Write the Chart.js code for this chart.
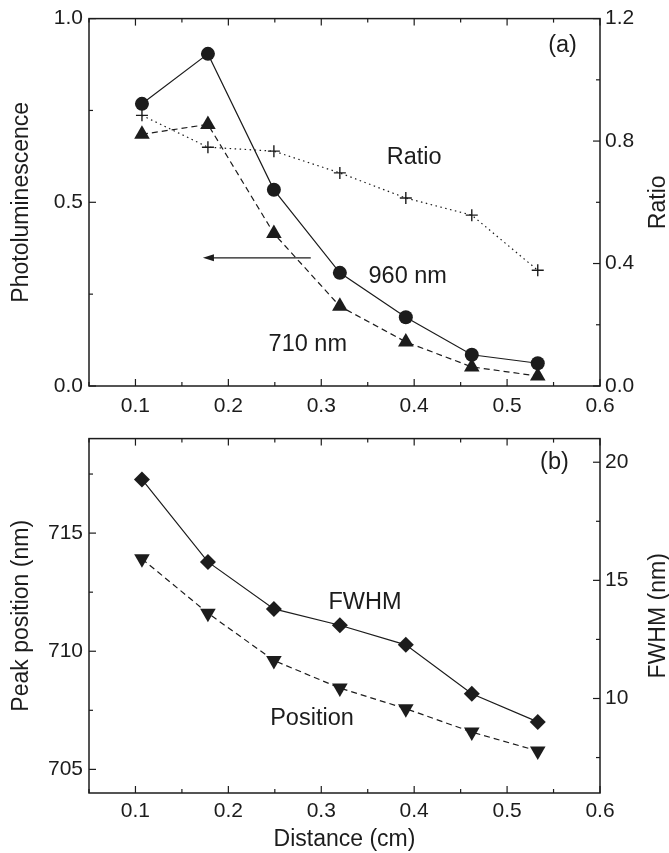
<!DOCTYPE html>
<html><head><meta charset="utf-8">
<script src="https://cdn.jsdelivr.net/npm/chart.js@4/dist/chart.umd.min.js"></script>
<style>
html,body{margin:0;padding:0;background:#fff;}
#wrap{position:relative;width:669px;height:853px;overflow:hidden;}
canvas{position:absolute;left:0;}
</style></head><body>
<div id="wrap">
<canvas id="c1" width="669" height="420" style="top:0;width:669px;height:420px"></canvas>
<canvas id="c2" width="669" height="433" style="top:420px;width:669px;height:433px"></canvas>
</div>
<script>
// ---------- data ----------
const distance = [0.107, 0.178, 0.249, 0.320, 0.391, 0.462, 0.533];
const pl960 = [0.768, 0.904, 0.534, 0.308, 0.187, 0.085, 0.062];
const pl710 = [0.685, 0.712, 0.415, 0.217, 0.120, 0.052, 0.027];
const ratio = [0.884, 0.780, 0.767, 0.696, 0.614, 0.558, 0.378];
const fwhm = [19.27, 15.78, 13.79, 13.10, 12.27, 10.20, 9.01];
const peakPos = [713.91, 711.61, 709.61, 708.44, 707.57, 706.58, 705.78];

// ---------- ticks ----------
const xMajor = [0.1, 0.2, 0.3, 0.4, 0.5, 0.6];
const xMinor = [0.05, 0.15, 0.25, 0.35, 0.45, 0.55];
const plMajor = [0.0, 0.5, 1.0];
const plMinor = [0.25, 0.75];
const ratioMajor = [0.0, 0.4, 0.8, 1.2];
const ratioMinor = [0.2, 0.6, 1.0];
const posMajor = [705, 710, 715];
const posMinor = [707.5, 712.5, 717.5];
const fwhmMajor = [10, 15, 20];
const fwhmMinor = [7.5, 12.5, 17.5];

const INK = '#1c1c1c';
const FONT = "'Liberation Sans', Arial, Helvetica, sans-serif";
const TICK_PX = 21, TITLE_PX = 23, NOTE_PX = 23.5;
const pts = ys => distance.map((x, i) => ({x, y: ys[i]}));

function setTicks(arr) { return s => { s.ticks = arr.map(v => ({value: v})); }; }

const tickPlugin = {
  id: 'frameTicks',
  afterDraw(chart, args, o) {
    const {ctx, chartArea: a} = chart;
    const xs = chart.scales.x, yl = chart.scales.y, yr = chart.scales.y1;
    ctx.save();
    ctx.strokeStyle = INK;
    ctx.lineWidth = 1.5;
    ctx.strokeRect(a.left, a.top, a.right - a.left, a.bottom - a.top);
    ctx.lineWidth = 1.2;
    const seg = (x1, y1, x2, y2) => { ctx.beginPath(); ctx.moveTo(x1, y1); ctx.lineTo(x2, y2); ctx.stroke(); };
    const xt = (vals, len) => vals.forEach(v => { const p = xs.getPixelForValue(v); seg(p, a.bottom, p, a.bottom - len); seg(p, a.top, p, a.top + len); });
    xt(o.xMajor, 7); xt(o.xMinor, 4);
    o.lMajor.forEach(v => { const p = yl.getPixelForValue(v); seg(a.left, p, a.left + 7, p); });
    o.lMinor.forEach(v => { const p = yl.getPixelForValue(v); seg(a.left, p, a.left + 4, p); });
    o.rMajor.forEach(v => { const p = yr.getPixelForValue(v); seg(a.right, p, a.right - 7, p); });
    o.rMinor.forEach(v => { const p = yr.getPixelForValue(v); seg(a.right, p, a.right - 4, p); });
    // right axis title, rotated to read upwards
    ctx.fillStyle = INK;
    ctx.font = TITLE_PX + 'px ' + FONT;
    ctx.textAlign = 'center'; ctx.textBaseline = 'middle';
    ctx.translate(659, (a.top + a.bottom) / 2);
    ctx.rotate(-Math.PI / 2);
    ctx.fillText(o.rTitle, 0, 0);
    ctx.restore();
    // annotations
    ctx.save();
    ctx.fillStyle = INK; ctx.strokeStyle = INK;
    ctx.font = NOTE_PX + 'px ' + FONT;
    ctx.textAlign = 'center'; ctx.textBaseline = 'middle';
    (o.notes || []).forEach(n => {
      const sc = chart.scales[n.axis || 'y'];
      ctx.fillText(n.text, xs.getPixelForValue(n.x), sc.getPixelForValue(n.y));
    });
    (o.arrows || []).forEach(ar => {
      const x1 = xs.getPixelForValue(ar.x1), x2 = xs.getPixelForValue(ar.x2), y = yl.getPixelForValue(ar.y);
      ctx.lineWidth = 1.3;
      ctx.beginPath(); ctx.moveTo(x1, y); ctx.lineTo(x2 + 8, y); ctx.stroke();
      ctx.beginPath(); ctx.moveTo(x2, y); ctx.lineTo(x2 + 11, y - 3.5); ctx.lineTo(x2 + 11, y + 3.5); ctx.closePath(); ctx.fill();
    });
    ctx.restore();
  }
};

function xScale(h, pad) {
  return {
    type: 'linear', min: 0.05, max: 0.6,
    afterBuildTicks: setTicks(xMajor),
    afterFit: s => { s.height = h; },
    grid: {display: false, drawTicks: false},
    border: {display: false},
    ticks: {color: INK, font: {size: TICK_PX, family: FONT}, padding: pad, autoSkip: false, maxRotation: 0,
            callback: v => v.toFixed(1)}
  };
}
function yScale(pos, min, max, major, w, pad, dec) {
  return {
    type: 'linear', position: pos, min, max,
    afterBuildTicks: setTicks(major),
    afterFit: s => { s.width = w; },
    grid: {display: false, drawTicks: false},
    border: {display: false},
    ticks: {color: INK, font: {size: TICK_PX, family: FONT}, padding: pad, callback: v => dec ? v.toFixed(dec) : String(v)}
  };
}

const common = {
  responsive: false, devicePixelRatio: 1, animation: false,
  plugins: {legend: {display: false}, tooltip: {enabled: false}},
};

// ---------- panel (a) ----------
const sA = {
  x: xScale(34, 8),
  y: Object.assign(yScale('left', 0, 1.0, plMajor, 89, 6, 1), {
    title: {display: true, text: 'Photoluminescence', color: INK, font: {size: TITLE_PX, family: FONT}, padding: {top: 8, bottom: 0}}
  }),
  y1: yScale('right', 0, 1.2, ratioMajor, 69, 5, 1)
};
new Chart(document.getElementById('c1'), {
  type: 'line',
  data: {datasets: [
    {data: pts(pl960), yAxisID: 'y', borderColor: INK, backgroundColor: INK, borderWidth: 1.2,
     pointStyle: 'circle', pointRadius: 7, pointBackgroundColor: INK, pointBorderWidth: 0, tension: 0},
    {data: pts(pl710), yAxisID: 'y', borderColor: INK, backgroundColor: INK, borderWidth: 1.2, borderDash: [6, 4],
     pointStyle: 'triangle', pointRadius: 9, pointBackgroundColor: INK, pointBorderWidth: 0, tension: 0},
    {data: pts(ratio), yAxisID: 'y1', borderColor: INK, backgroundColor: INK, borderWidth: 1.2, borderDash: [1.5, 3.5],
     pointStyle: 'cross', pointRadius: 6, pointBorderWidth: 1.4, pointBorderColor: INK, tension: 0}
  ]},
  options: Object.assign({}, common, {
    layout: {padding: {top: 18, left: 0, right: 0, bottom: 0}},
    scales: sA,
    plugins: Object.assign({}, common.plugins, {frameTicks: {
      xMajor, xMinor, lMajor: plMajor, lMinor: plMinor, rMajor: ratioMajor, rMinor: ratioMinor, rTitle: 'Ratio',
      notes: [
        {text: '(a)', x: 0.5597, y: 0.927},
        {text: 'Ratio', x: 0.400, y: 0.622},
        {text: '960 nm', x: 0.393, y: 0.299},
        {text: '710 nm', x: 0.2855, y: 0.1125}
      ],
      arrows: [{x1: 0.2887, x2: 0.1726, y: 0.349}]
    }})
  }),
  plugins: [tickPlugin]
});

// ---------- panel (b) ----------
const sB = {
  x: Object.assign(xScale(60, 6), {
    title: {display: true, text: 'Distance (cm)', color: INK, font: {size: TITLE_PX, family: FONT}, padding: {top: 0, bottom: 0}}
  }),
  y: Object.assign(yScale('left', 704, 719, posMajor, 89, 6, 0), {
    title: {display: true, text: 'Peak position (nm)', color: INK, font: {size: TITLE_PX, family: FONT}, padding: {top: 8, bottom: 0}}
  }),
  y1: yScale('right', 6, 21, fwhmMajor, 69, 5, 0)
};
new Chart(document.getElementById('c2'), {
  type: 'line',
  data: {datasets: [
    {data: pts(fwhm), yAxisID: 'y1', borderColor: INK, backgroundColor: INK, borderWidth: 1.2,
     pointStyle: 'rectRot', pointRadius: 8, pointBackgroundColor: INK, pointBorderWidth: 0, tension: 0},
    {data: pts(peakPos), yAxisID: 'y', borderColor: INK, backgroundColor: INK, borderWidth: 1.2, borderDash: [6, 4],
     pointStyle: 'triangle', pointRotation: 180, pointRadius: 9, pointBackgroundColor: INK, pointBorderWidth: 0, tension: 0}
  ]},
  options: Object.assign({}, common, {
    layout: {padding: {top: 5, left: 0, right: 0, bottom: 0}},
    scales: sB,
    plugins: Object.assign({}, common.plugins, {frameTicks: {
      xMajor, xMinor, lMajor: posMajor, lMinor: posMinor, rMajor: fwhmMajor, rMinor: fwhmMinor, rTitle: 'FWHM (nm)',
      notes: [
        {text: '(b)', x: 0.551, y: 717.99},
        {text: 'FWHM', x: 0.347, y: 712.06},
        {text: 'Position', x: 0.290, y: 707.15}
      ]
    }})
  }),
  plugins: [tickPlugin]
});
</script>
</body></html>
